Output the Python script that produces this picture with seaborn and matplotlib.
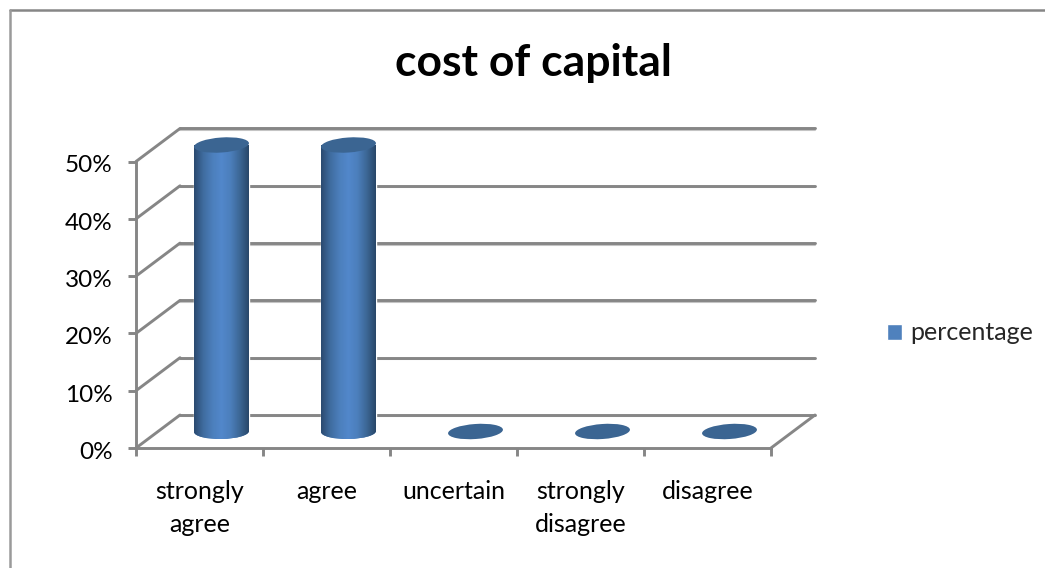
import numpy as np
import matplotlib.pyplot as plt
import seaborn as sns
from matplotlib.colors import LinearSegmentedColormap
from matplotlib.lines import Line2D
from matplotlib.patches import Ellipse
from matplotlib.transforms import ScaledTranslation

categories = ['strongly\nagree', 'agree', 'uncertain', 'strongly\ndisagree', 'disagree']
percentage = [50, 50, 0, 0, 0]
y_ticks = [0, 10, 20, 30, 40, 50]
y_labels = ['0%', '10%', '20%', '30%', '40%', '50%']

GREY = '#868686'
LIGHT = '#c4c4c4'
LW = 2.1

sns.set_theme(style='white')
plt.rcParams['font.family'] = ['Lato', 'DejaVu Sans']

W, H = 1045, 568
fig = plt.figure(figsize=(W / 100, H / 100), dpi=100)
ax = fig.add_axes([136 / W, 1 - 448 / H, 635 / W, 286.5 / H])

sns.barplot(x=categories, y=percentage, color='#4f81bd', width=55 / 127,
            saturation=1, label='percentage', ax=ax)
ax.set_xlim(-0.5, 4.5)
ax.set_ylim(0, 50)

# depth of the fake 3d box, in data units
dx = 44 / 127
dy = 33 / 57.3 * 10

# back wall and left wall lines
for y in y_ticks:
    ax.plot([-0.5 + dx, 4.5 + dx], [y + dy - 0.25, y + dy - 0.25], color=LIGHT, lw=1.5, clip_on=False, zorder=0.5)
    ax.plot([-0.5 + dx, 4.5 + dx], [y + dy, y + dy], color=GREY, lw=LW, clip_on=False, zorder=0.6)
    ax.plot([-0.5, -0.5 + dx], [y, y + dy], color=GREY, lw=LW, clip_on=False, zorder=0.6)
# floor, right edge
ax.plot([4.5, 4.5 + dx], [0, dy], color=GREY, lw=LW, clip_on=False, zorder=0.6)

# cylinders: gradient clipped to the seaborn bars, plus ellipses for the caps
shade = LinearSegmentedColormap.from_list(
    'cyl', ['#2b4a70', '#3f6c9f', '#4c7fbc', '#5288cb', '#4c7fbc', '#3c6796', '#294769'])
grad = np.linspace(0, 1, 128).reshape(1, -1)


def cap(cx, cy, color, z, angle=4):
    tr = fig.dpi_scale_trans + ScaledTranslation(cx, cy, ax.transData)
    e = Ellipse((0, 0), 0.55, 0.15, angle=angle, transform=tr, facecolor=color,
                edgecolor='none', clip_on=False, zorder=z)
    ax.add_patch(e)
    return e


for bar, val in zip(ax.patches, percentage):
    bar.set_x(bar.get_x() + dx / 2)
    bar.set_y(dy / 2)
    bar.set_clip_on(False)
    bar.set_zorder(2)
    cx = bar.get_x() + bar.get_width() / 2
    if val > 0:
        base = cap(cx, dy / 2, '#4f81bd', 2, angle=1)
        extent = (bar.get_x(), bar.get_x() + bar.get_width(), 0, dy / 2 + val)
        body = ax.imshow(grad, cmap=shade, aspect='auto', extent=extent, zorder=3)
        body.set_clip_path(bar)
        low = ax.imshow(grad, cmap=shade, aspect='auto', extent=extent, zorder=3)
        low.set_clip_box(fig.bbox)
        low.set_clip_path(base)
    cap(cx, dy / 2 + val, '#3b6592', 4)

ax.set_xlim(-0.5, 4.5)
ax.set_ylim(0, 50)
ax.set_xticks([-0.5, 0.5, 1.5, 2.5, 3.5, 4.5], labels=[''] * 6)
ax.set_xticks(range(5), labels=categories, minor=True)
ax.set_yticks(y_ticks, labels=y_labels)
ax.tick_params(axis='both', which='major', length=5.8, width=LW, color=GREY, left=True, bottom=True)
ax.tick_params(axis='y', labelsize=17.5, pad=11, labelcolor='black')
ax.tick_params(axis='x', which='minor', length=0, labelsize=18, pad=23, labelcolor='black')
for lab in ax.get_xticklabels(minor=True):
    lab.set_linespacing(1.55)
# labels sit a little under their ticks in the original
for lab in ax.get_yticklabels():
    lab.set_transform(lab.get_transform() + ScaledTranslation(0, -2.5 / 100, fig.dpi_scale_trans))
sns.despine(ax=ax, top=True, right=True)
for side in ['left', 'bottom']:
    ax.spines[side].set_color(GREY)
    ax.spines[side].set_linewidth(LW)
ax.patch.set_alpha(0)

fig.text(533 / W, 1 - 63 / H, 'cost of capital', fontsize=32, fontweight='bold',
         ha='center', va='center', color='black')

ax.legend(loc='center left', bbox_to_anchor=(864 / W, 1 - 333 / H), bbox_transform=fig.transFigure,
          frameon=False, fontsize=18, handlelength=0.6, handleheight=0.6, handletextpad=0.35)

# chart frame, only top and left show in the crop
fig.add_artist(Line2D([10 / W, 1], [1 - 10 / H, 1 - 10 / H], color=GREY, lw=1.8))
fig.add_artist(Line2D([10 / W, 10 / W], [0, 1 - 10 / H], color='#9a9a9a', lw=1.8))

fig.savefig('out.png', dpi=100)
